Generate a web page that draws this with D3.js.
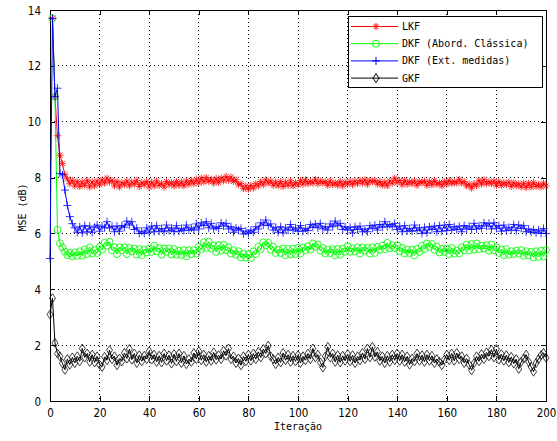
<!DOCTYPE html>
<html>
<head>
<meta charset="utf-8">
<script src="https://cdn.jsdelivr.net/npm/d3@7"></script>
<style>
  body { margin: 0; background: #fff; }
  .tick-num { font-family: "Liberation Sans Narrow", "DejaVu Sans Condensed", "Liberation Sans", sans-serif; font-size: 11.5px; }
  .lbl { font-family: "DejaVu Sans Mono", "Liberation Mono", monospace; font-size: 10px; }
</style>
</head>
<body>
<div id="chart"></div>
<script>
// MSE (dB) per iteration
const xTicks = [0, 20, 40, 60, 80, 100, 120, 140, 160, 180, 200];
const yTicks = [0, 2, 4, 6, 8, 10, 12, 14];
const seriesNames = ["LKF", "DKF (Abord. Clássica)", "DKF (Ext. medidas)", "GKF"];

// LKF, iterations 1..200
const lkf = [
  13.7, 10.9, 9.5, 8.8, 8.5, 8.1, 7.95, 7.78, 7.9, 7.7,
  7.86, 7.68, 7.84, 7.72, 7.9, 7.66, 7.85, 7.7, 7.88, 7.74,
  7.92, 7.8, 7.98, 7.84, 7.9, 7.7, 7.86, 7.66, 7.82, 7.74,
  7.88, 7.7, 7.84, 7.76, 7.9, 7.68, 7.82, 7.74, 7.86, 7.66,
  7.84, 7.7, 7.88, 7.72, 7.8, 7.66, 7.86, 7.74, 7.82, 7.7,
  7.86, 7.72, 7.84, 7.7, 7.88, 7.76, 7.9, 7.78, 7.94, 7.8,
  7.98, 7.84, 8.0, 7.86, 7.94, 7.8, 7.96, 7.82, 7.98, 7.88,
  8.04, 7.9, 8.02, 7.86, 7.92, 7.74, 7.78, 7.6, 7.7, 7.58,
  7.72, 7.62, 7.78, 7.7, 7.86, 7.74, 7.92, 7.8, 7.88, 7.72,
  7.84, 7.7, 7.86, 7.68, 7.84, 7.72, 7.88, 7.7, 7.82, 7.74,
  7.9, 7.76, 7.92, 7.78, 7.86, 7.8, 7.94, 7.78, 7.88, 7.8,
  7.86, 7.72, 7.88, 7.74, 7.82, 7.72, 7.86, 7.7, 7.84, 7.76,
  7.86, 7.74, 7.88, 7.78, 7.9, 7.8, 7.92, 7.76, 7.9, 7.84,
  7.9, 7.76, 7.86, 7.72, 7.84, 7.7, 7.88, 7.8, 7.98, 7.82,
  7.9, 7.74, 7.9, 7.76, 7.86, 7.78, 7.88, 7.72, 7.86, 7.8,
  7.88, 7.72, 7.86, 7.74, 7.9, 7.76, 7.82, 7.7, 7.86, 7.76,
  7.9, 7.78, 7.86, 7.8, 7.94, 7.8, 7.86, 7.7, 7.76, 7.62,
  7.78, 7.7, 7.9, 7.76, 7.92, 7.78, 7.86, 7.78, 7.88, 7.72,
  7.86, 7.72, 7.82, 7.74, 7.84, 7.68, 7.82, 7.7, 7.78, 7.66,
  7.8, 7.64, 7.8, 7.66, 7.82, 7.68, 7.76, 7.66, 7.8, 7.7
];

// DKF (Abord. Clássica), iterations 1..200
const dkfClassic = [
  13.7, 10.9, 6.13, 5.65, 5.5, 5.35, 5.22, 5.3, 5.18, 5.32,
  5.2, 5.36, 5.2, 5.42, 5.26, 5.5, 5.28, 5.4, 5.3, 5.52,
  5.42, 5.66, 5.56, 5.7, 5.4, 5.5, 5.26, 5.5, 5.4, 5.5,
  5.26, 5.48, 5.36, 5.46, 5.24, 5.44, 5.22, 5.42, 5.32, 5.46,
  5.34, 5.56, 5.36, 5.48, 5.24, 5.46, 5.34, 5.46, 5.24, 5.44,
  5.24, 5.38, 5.22, 5.4, 5.18, 5.4, 5.26, 5.4, 5.28, 5.52,
  5.44, 5.68, 5.48, 5.7, 5.46, 5.56, 5.34, 5.58, 5.38, 5.6,
  5.4, 5.5, 5.28, 5.4, 5.24, 5.36, 5.14, 5.28, 5.14, 5.26,
  5.12, 5.36, 5.26, 5.52, 5.44, 5.68, 5.58, 5.66, 5.42, 5.52,
  5.3, 5.42, 5.3, 5.46, 5.22, 5.44, 5.24, 5.46, 5.26, 5.48,
  5.28, 5.5, 5.4, 5.54, 5.42, 5.64, 5.52, 5.6, 5.38, 5.48,
  5.28, 5.42, 5.3, 5.44, 5.22, 5.44, 5.24, 5.46, 5.34, 5.54,
  5.34, 5.46, 5.36, 5.5, 5.28, 5.5, 5.38, 5.48, 5.28, 5.5,
  5.3, 5.52, 5.42, 5.56, 5.44, 5.66, 5.46, 5.58, 5.48, 5.58,
  5.36, 5.48, 5.28, 5.42, 5.3, 5.42, 5.22, 5.44, 5.34, 5.56,
  5.44, 5.64, 5.52, 5.62, 5.42, 5.52, 5.32, 5.44, 5.34, 5.46,
  5.26, 5.48, 5.28, 5.38, 5.28, 5.5, 5.4, 5.6, 5.4, 5.62,
  5.42, 5.64, 5.44, 5.56, 5.46, 5.58, 5.38, 5.6, 5.4, 5.5,
  5.3, 5.42, 5.22, 5.44, 5.24, 5.36, 5.26, 5.38, 5.28, 5.4,
  5.2, 5.36, 5.22, 5.34, 5.14, 5.36, 5.16, 5.38, 5.18, 5.4
];

// DKF (Ext. medidas), iterations 0..200
const dkfExt = [
  5.1,
  13.7, 10.9, 11.2, 8.15, 8.1, 7.55, 7.0, 6.6, 6.35, 6.2,
  6.04, 6.24, 6.02, 6.28, 6.06, 6.26, 6.04, 6.22, 6.3, 6.08,
  6.26, 6.2, 6.42, 6.2, 6.26, 6.06, 6.26, 6.08, 6.28, 6.22,
  6.44, 6.3, 6.42, 6.14, 6.2, 6.0, 6.08, 6.0, 6.2, 6.04,
  6.26, 6.06, 6.28, 6.08, 6.18, 6.06, 6.3, 6.1, 6.2, 6.06,
  6.28, 6.08, 6.18, 6.1, 6.3, 6.12, 6.2, 6.12, 6.34, 6.16,
  6.38, 6.28, 6.42, 6.2, 6.36, 6.16, 6.24, 6.18, 6.38, 6.26,
  6.36, 6.16, 6.24, 6.04, 6.2, 6.12, 6.18, 5.98, 6.08, 6.0,
  6.12, 6.04, 6.24, 6.16, 6.38, 6.3, 6.48, 6.28, 6.34, 6.12,
  6.22, 6.04, 6.24, 6.02, 6.2, 6.12, 6.32, 6.12, 6.2, 6.08,
  6.28, 6.08, 6.18, 6.1, 6.32, 6.22, 6.34, 6.2, 6.36, 6.16,
  6.24, 6.12, 6.34, 6.24, 6.44, 6.28, 6.36, 6.14, 6.24, 6.12,
  6.22, 6.02, 6.24, 6.14, 6.26, 6.06, 6.16, 6.06, 6.28, 6.18,
  6.3, 6.12, 6.32, 6.22, 6.42, 6.24, 6.32, 6.24, 6.36, 6.14,
  6.26, 6.06, 6.28, 6.08, 6.18, 6.08, 6.3, 6.1, 6.2, 6.0,
  6.22, 6.02, 6.24, 6.14, 6.26, 6.06, 6.28, 6.08, 6.3, 6.1,
  6.32, 6.12, 6.24, 6.14, 6.26, 6.06, 6.28, 6.16, 6.26, 6.14,
  6.36, 6.16, 6.28, 6.18, 6.38, 6.26, 6.36, 6.16, 6.38, 6.18,
  6.28, 6.08, 6.3, 6.1, 6.22, 6.12, 6.32, 6.1, 6.3, 6.18,
  6.28, 6.06, 6.16, 6.04, 6.14, 6.02, 6.12, 6.0, 6.18, 6.0
];

// GKF, iterations 0..200
const gkf = [
  3.1,
  3.68, 2.08, 1.7, 1.6, 1.35, 1.12, 1.5, 1.3, 1.56, 1.36,
  1.6, 1.42, 1.88, 1.56, 1.7, 1.4, 1.66, 1.38, 1.6, 1.3,
  1.22, 1.58, 1.46, 1.82, 1.5, 1.6, 1.28, 1.52, 1.42, 1.72,
  1.52, 1.86, 1.48, 1.7, 1.36, 1.64, 1.42, 1.62, 1.5, 1.78,
  1.48, 1.66, 1.4, 1.62, 1.38, 1.7, 1.44, 1.64, 1.34, 1.68,
  1.42, 1.7, 1.36, 1.62, 1.32, 1.5, 1.4, 1.72, 1.5, 1.78,
  1.46, 1.66, 1.4, 1.62, 1.44, 1.74, 1.48, 1.64, 1.5, 1.8,
  1.62, 1.88, 1.5, 1.6, 1.36, 1.52, 1.28, 1.6, 1.42, 1.66,
  1.44, 1.7, 1.5, 1.76, 1.56, 1.86, 1.7, 1.98, 1.6, 1.5,
  1.32, 1.56, 1.38, 1.72, 1.46, 1.66, 1.4, 1.62, 1.42, 1.64,
  1.36, 1.6, 1.46, 1.7, 1.5, 1.88, 1.56, 1.66, 1.38, 1.2,
  1.6, 1.94, 1.56, 1.7, 1.4, 1.64, 1.38, 1.62, 1.44, 1.68,
  1.42, 1.64, 1.36, 1.6, 1.46, 1.72, 1.5, 1.88, 1.56, 1.94,
  1.58, 1.76, 1.44, 1.6, 1.36, 1.62, 1.4, 1.66, 1.46, 1.7,
  1.44, 1.66, 1.4, 1.6, 1.3, 1.52, 1.42, 1.7, 1.44, 1.64,
  1.4, 1.66, 1.44, 1.62, 1.36, 1.5, 1.4, 1.28, 1.48, 1.66,
  1.46, 1.7, 1.44, 1.72, 1.5, 1.6, 1.36, 1.52, 1.3, 1.1,
  1.36, 1.6, 1.42, 1.68, 1.5, 1.74, 1.6, 1.84, 1.56, 1.86,
  1.48, 1.68, 1.44, 1.64, 1.38, 1.58, 1.34, 1.5, 1.15, 1.4,
  1.52, 1.66, 1.4, 1.22, 1.05, 1.36, 1.5, 1.64, 1.72, 1.55
];

// first iteration index of each series
const firstIter = [1, 1, 0, 0];

// set the dimensions and margins of the graph
const margin = { top: 10, right: 11, bottom: 40, left: 50 },
    width = 557 - margin.left - margin.right,
    height = 441 - margin.top - margin.bottom;

const svg = d3.select("#chart")
    .append("svg")
    .attr("width", width + margin.left + margin.right)
    .attr("height", height + margin.top + margin.bottom)
    .append("g")
    .attr("transform", `translate(${margin.left},${margin.top})`);

const x = d3.scaleLinear().domain([0, 200]).range([0, width]);
const y = d3.scaleLinear().domain([0, 14]).range([height, 0]);

// dotted grid
svg.append("g")
    .selectAll("line")
    .data(xTicks.slice(1, -1))
    .enter().append("line")
    .attr("x1", d => x(d)).attr("x2", d => x(d))
    .attr("y1", 0).attr("y2", height)
    .attr("stroke", "#000").attr("stroke-width", 1)
    .attr("stroke-dasharray", "1,3")
    .attr("shape-rendering", "crispEdges");
svg.append("g")
    .selectAll("line")
    .data(yTicks.slice(1, -1))
    .enter().append("line")
    .attr("x1", 0).attr("x2", width)
    .attr("y1", d => y(d)).attr("y2", d => y(d))
    .attr("stroke", "#000").attr("stroke-width", 1)
    .attr("stroke-dasharray", "1,3")
    .attr("shape-rendering", "crispEdges");

// axes, ticks inward on all four sides
const tickLen = 5;
const gx = svg.append("g")
    .attr("transform", `translate(0, ${height})`)
    .call(d3.axisBottom(x).tickValues(xTicks).tickSizeInner(-tickLen).tickSizeOuter(0).tickPadding(8));
const gy = svg.append("g")
    .call(d3.axisLeft(y).tickValues(yTicks).tickSizeInner(-tickLen).tickSizeOuter(0).tickPadding(9));
svg.append("g")
    .call(d3.axisTop(x).tickValues(xTicks).tickSizeInner(-tickLen).tickSizeOuter(0).tickFormat(""));
svg.append("g")
    .attr("transform", `translate(${width}, 0)`)
    .call(d3.axisRight(y).tickValues(yTicks).tickSizeInner(-tickLen).tickSizeOuter(0).tickFormat(""));

svg.selectAll(".domain").remove();
svg.selectAll(".tick line").attr("stroke", "#000").attr("shape-rendering", "crispEdges");
[gx, gy].forEach(g => g.selectAll("text")
    .attr("class", "tick-num")
    .attr("fill", "#000")
    .attr("font-family", null)
    .attr("font-size", null));
gy.selectAll("text").attr("dy", "0.36em");

// axes box
svg.append("rect")
    .attr("x", 0).attr("y", 0)
    .attr("width", width).attr("height", height)
    .attr("fill", "none").attr("stroke", "#000")
    .attr("shape-rendering", "crispEdges");

// marker shapes
const markers = [
    "M-3.5,0H3.5M0,-3.5V3.5M-2.6,-2.6L2.6,2.6M-2.6,2.6L2.6,-2.6",
    "M3.5,0A3.5,3.5 0 1,1 -3.5,0A3.5,3.5 0 1,1 3.5,0Z",
    "M-4,0H4M0,-4V4",
    "M0,-4.5L3,0L0,4.5L-3,0Z"
];
const colors = ["#ff0000", "#00ff00", "#0000ff", "#000000"];
const markerOpacity = [0.8, 0.85, 0.8, 0.75];
const allSeries = [lkf, dkfClassic, dkfExt, gkf];

const line = d3.line()
    .x(d => x(d[0]))
    .y(d => y(d[1]));

allSeries.forEach((vals, k) => {
    const pts = vals.map((v, i) => [i + firstIter[k], v]);
    svg.append("path")
        .datum(pts)
        .attr("fill", "none")
        .attr("stroke", colors[k])
        .attr("stroke-width", 1)
        .attr("d", line);
    svg.append("g")
        .selectAll("path")
        .data(pts)
        .enter().append("path")
        .attr("transform", d => `translate(${x(d[0])},${y(d[1])})`)
        .attr("d", markers[k])
        .attr("fill", "none")
        .attr("stroke", colors[k])
        .attr("stroke-opacity", markerOpacity[k])
        .attr("stroke-width", 1);
});

// axis labels
svg.append("text")
    .attr("class", "lbl")
    .attr("text-anchor", "middle")
    .attr("x", width / 2)
    .attr("y", height + 29)
    .text("Iteração");

svg.append("text")
    .attr("class", "lbl")
    .attr("text-anchor", "middle")
    .attr("transform", `translate(-24, ${height / 2 + 2}) rotate(-90)`)
    .text("MSE (dB)");

// legend
const lx = 298, ly = 6, lw = 194, lh = 71, rowH = 17.2;
const legend = svg.append("g").attr("transform", `translate(${lx},${ly})`);
legend.append("rect")
    .attr("width", lw).attr("height", lh)
    .attr("fill", "#fff").attr("stroke", "#000")
    .attr("shape-rendering", "crispEdges");
seriesNames.forEach((name, k) => {
    const ry = 10.5 + k * rowH;
    legend.append("line")
        .attr("x1", 3).attr("x2", 50)
        .attr("y1", ry).attr("y2", ry)
        .attr("stroke", colors[k]);
    legend.append("path")
        .attr("transform", `translate(28,${ry})`)
        .attr("d", markers[k])
        .attr("fill", "none")
        .attr("stroke", colors[k]);
    legend.append("text")
        .attr("class", "lbl")
        .attr("x", 54)
        .attr("y", ry)
        .attr("dy", "0.35em")
        .text(name);
});
</script>
</body>
</html>
